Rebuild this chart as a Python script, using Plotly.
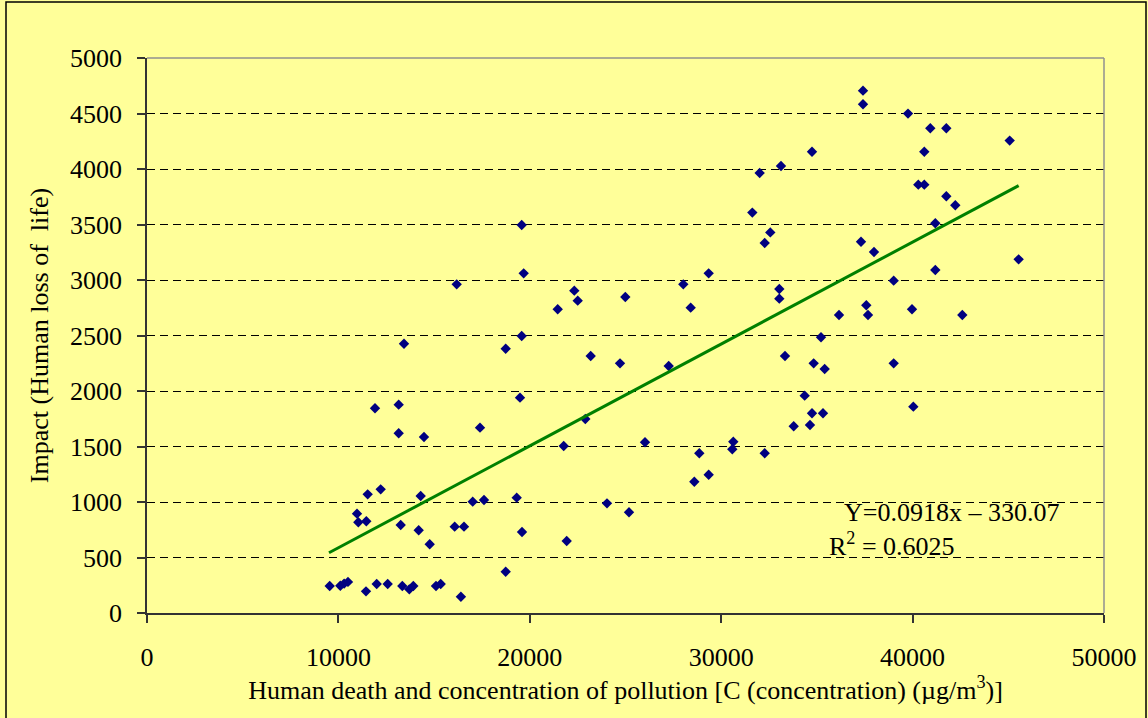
import plotly.graph_objects as go

# Data
concentration = [
    9545, 10100, 10300, 10500, 10972, 11040, 11442, 11458, 11530, 11912,
    12001, 12209, 12575, 13150, 13150, 13255, 13339, 13427, 13705, 13914,
    14195, 14299, 14472, 14770, 15099, 15345, 16076, 16181, 16400, 16562,
    17017, 17398, 17607, 18741, 18741, 19316, 19488, 19577, 19577, 19593,
    19681, 21458, 21771, 21928, 22325, 22503, 22900, 23182, 24033, 24713,
    24990, 25183, 26019, 27257, 28020, 28406, 28595, 28856, 29346, 29346,
    30580, 30632, 31626, 32010, 32272, 32272, 32565, 33036, 33036, 33124,
    33333, 33788, 34362, 34639, 34744, 34744, 34831, 35214, 35318, 35406,
    36155, 37304, 37409, 37409, 37581, 37670, 37983, 39012, 39012, 39760,
    39969, 40038, 40298, 40611, 40611, 40925, 41186, 41186, 41761, 41761,
    42231, 42597, 45072, 45541,
]
impact = [
    243, 245, 265, 280, 895, 817, 195, 826, 1069, 1844,
    261, 1114, 261, 1877, 1619, 793, 243, 2426, 213, 243,
    745, 1054, 1586, 619, 243, 261, 778, 2961, 147, 778,
    1003, 1670, 1018, 2381, 372, 1039, 1940, 3495, 2495, 730,
    3060, 2736, 1505, 649, 2904, 2814, 1748, 2315, 988, 2249,
    2847, 907, 1538, 2225, 2961, 2751, 1183, 1439, 3060, 1246,
    1475, 1543, 3607, 3964, 3333, 1439, 3429, 2919, 2832, 4027,
    2315, 1682, 1958, 1694, 4156, 1799, 2249, 2484, 1799, 2198,
    2685, 3345, 4706, 4583, 2772, 2685, 3252, 2994, 2249, 4499,
    2736, 1859, 3859, 3859, 4156, 4367, 3511, 3090, 4367, 3754,
    3673, 2685, 4256, 3186,
]

# Linear trend line end points (Y = 0.0918x - 330.07)
trend_x = [9509, 45541]
trend_y = [543, 3850]

equation_text = "Y=0.0918x \u2013 330.07"
r2_text = "R<sup>2</sup> = 0.6025"

x_ticks = [0, 10000, 20000, 30000, 40000, 50000]
y_ticks = [0, 500, 1000, 1500, 2000, 2500, 3000, 3500, 4000, 4500, 5000]

x_title = "Human death and concentration of pollution [C (concentration) (\u00b5g/m<sup>3</sup>)]"
y_title = "Impact (Human loss of  life)"

FONT = "Liberation Serif, Times New Roman, serif"
BG = "#FFFF99"

W, H = 1148, 718
ML, MR, MT, MB = 147, 44, 58, 105
PW, PH = W - ML - MR, H - MT - MB

fig = go.Figure()
fig.add_trace(go.Scatter(
    x=concentration, y=impact, mode="markers",
    marker=dict(symbol="diamond", size=8, color="#000080", line=dict(width=0)),
    showlegend=False, hoverinfo="x+y",
))
fig.add_trace(go.Scatter(
    x=trend_x, y=trend_y, mode="lines",
    line=dict(color="#008000", width=3),
    showlegend=False, hoverinfo="skip",
))

fig.update_layout(
    width=W, height=H, autosize=False,
    margin=dict(l=ML, r=MR, t=MT, b=MB, pad=0),
    paper_bgcolor=BG, plot_bgcolor=BG,
    font=dict(family=FONT, color="black", size=26),
    xaxis=dict(
        range=[0, 50000], tickvals=x_ticks, ticktext=[str(v) for v in x_ticks],
        showgrid=False, zeroline=False,
        showline=True, linecolor="#333333", linewidth=1.5,
        ticks="outside", ticklen=8, tickcolor="#333333", tickwidth=1.5,
        tickfont=dict(family=FONT, size=26), ticklabelstandoff=12,
        title=dict(text=x_title, font=dict(family=FONT, size=26), standoff=2),
    ),
    yaxis=dict(
        range=[0, 5000], tickvals=y_ticks, ticktext=[str(v) for v in y_ticks],
        showgrid=True, gridcolor="black", gridwidth=1, griddash="8px,5px",
        zeroline=False,
        showline=True, linecolor="#333333", linewidth=1.5,
        ticks="outside", ticklen=8, tickcolor="#333333", tickwidth=1.5,
        tickfont=dict(family=FONT, size=26), ticklabelstandoff=10,
        title=dict(text=y_title, font=dict(family=FONT, size=26), standoff=14),
    ),
    shapes=[
        # plot area border (top/right gray)
        dict(type="line", xref="paper", yref="paper", x0=0, x1=1, y0=1, y1=1,
             line=dict(color="#909090", width=1.5), layer="above"),
        dict(type="line", xref="paper", yref="paper", x0=1, x1=1, y0=0, y1=1,
             line=dict(color="#909090", width=1.5), layer="above"),
        # outer chart border
        dict(type="rect", xref="paper", yref="paper",
             x0=(6 - ML) / PW, x1=(1146 - ML) / PW,
             y0=(H - 722 - MB) / PH, y1=(H - 2 - MB) / PH,
             line=dict(color="black", width=1.5), fillcolor="rgba(0,0,0,0)", layer="below"),
    ],
    annotations=[
        dict(text=equation_text, x=36313, y=905, xref="x", yref="y",
             xanchor="left", yanchor="middle", showarrow=False,
             font=dict(family=FONT, size=26, color="black")),
        dict(text=r2_text, x=35546, y=613, xref="x", yref="y",
             xanchor="left", yanchor="middle", showarrow=False,
             font=dict(family=FONT, size=26, color="black")),
    ],
)

fig.write_html(
    "out.html",
    config={"displayModeBar": False},
    post_script="document.body.style.margin='0';document.body.style.background='#FFFF99';",
)
